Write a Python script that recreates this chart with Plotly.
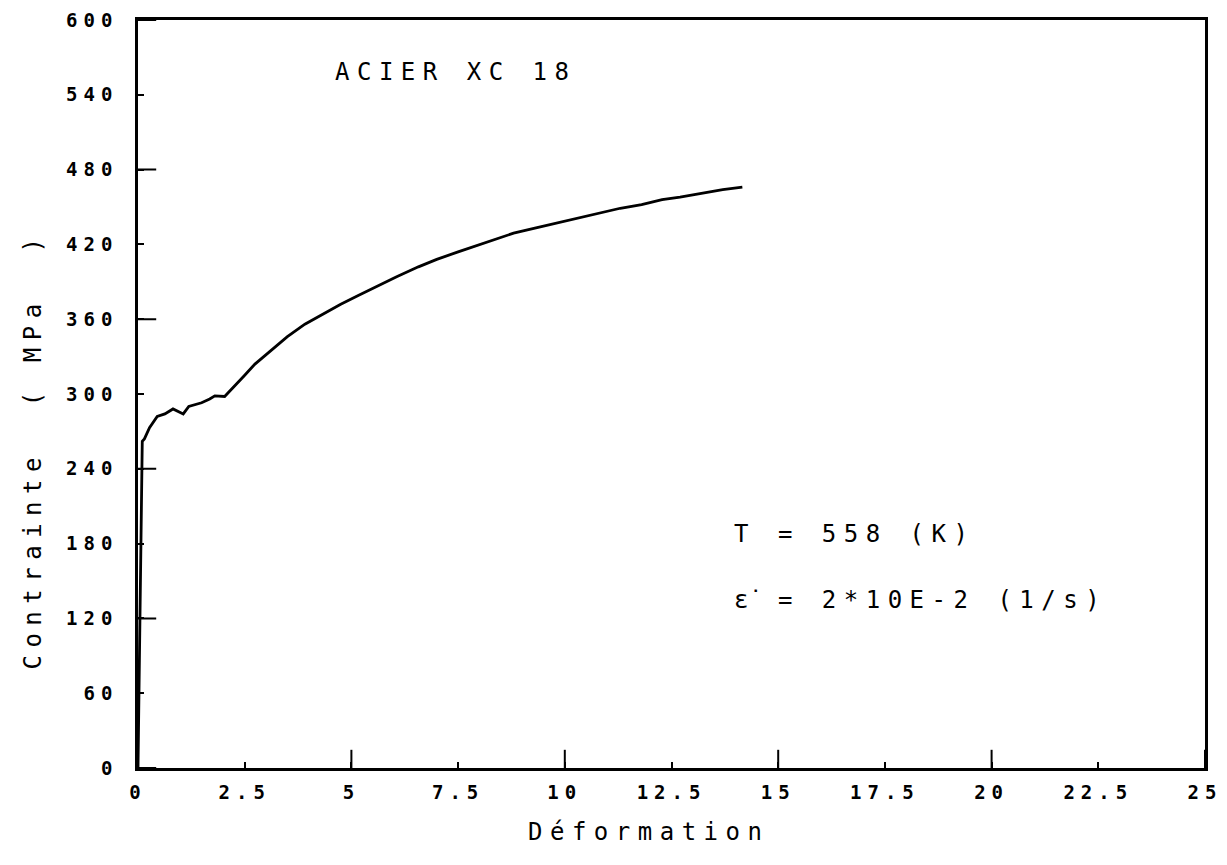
import plotly.graph_objects as go

# Data: strain (%) vs stress (MPa)
deformation = [0.0, 0.06, 0.10, 0.15, 0.27, 0.45, 0.63, 0.82, 1.06, 1.19, 1.49, 1.68,
               1.80, 2.03, 2.23, 2.5, 2.74, 3.13, 3.5, 3.91, 4.38, 4.75, 5.16, 5.63,
               6.06, 6.57, 7.0, 7.5, 8.0, 8.37, 8.8, 9.3, 9.8, 10.33, 10.8, 11.3,
               11.8, 12.28, 12.7, 13.2, 13.7, 14.16]
contrainte = [0, 180, 262, 264, 273, 282, 284, 288, 284, 290, 293, 296,
              298.5, 298, 305, 315, 324, 335, 346, 356, 365, 372, 379, 387,
              394, 402, 408, 414, 420, 424, 429, 433, 437, 441, 445, 449,
              452, 456, 458, 461, 464, 466]

x_ticks = [0, 2.5, 5, 7.5, 10, 12.5, 15, 17.5, 20, 22.5, 25]
x_ticktext = ["0", "2.5", "5", "7.5", "10", "12.5", "15", "17.5", "20", "22.5", "25"]
y_ticks = [0, 60, 120, 180, 240, 300, 360, 420, 480, 540, 600]
x_long_ticks = x_ticks[::2]   # 0, 5, 10, ... drawn with longer marks
y_long_ticks = y_ticks[::2]   # 0, 120, 240, ...

title_text = "ACIER XC 18"
temp_text = "T = 558 (K)"
rate_text = "\u03b5\u0307 = 2*10E-2 (1/s)"
x_title = "Déformation"
y_title = "Contrainte\u00a0\u00a0(\u00a0MPa\u00a0\u00a0)"

FONT = "DejaVu Sans Mono"


def spaced(s, px):
    return '<span style="letter-spacing:%spx">%s</span>' % (px, s)


fig = go.Figure()
fig.add_trace(go.Scatter(x=deformation, y=contrainte, mode="lines",
                         line=dict(color="black", width=2.8), hoverinfo="skip",
                         showlegend=False))
# longer tick marks at every second tick (clipped to the plot area -> inside ticks)
fig.add_trace(go.Scatter(x=x_long_ticks, y=[0] * len(x_long_ticks), mode="markers",
                         marker=dict(symbol="line-ns", size=26,
                                     line=dict(color="black", width=2)),
                         cliponaxis=True, hoverinfo="skip", showlegend=False))
fig.add_trace(go.Scatter(x=[0] * len(y_long_ticks), y=y_long_ticks, mode="markers",
                         marker=dict(symbol="line-ew", size=26,
                                     line=dict(color="black", width=2)),
                         cliponaxis=True, hoverinfo="skip", showlegend=False))

tickfont = dict(family=FONT, size=19, color="black", weight="bold")

fig.update_layout(
    width=1227, height=865,
    paper_bgcolor="white", plot_bgcolor="white",
    margin=dict(l=138, r=22, t=20, b=97, autoexpand=False),
    xaxis=dict(range=[0, 25], tickvals=x_ticks,
               ticktext=[spaced(t, 6) for t in x_ticktext],
               ticks="inside", ticklen=6, tickwidth=2, tickcolor="black",
               showline=True, linecolor="black", linewidth=2.5, mirror=True,
               showgrid=False, zeroline=False, tickfont=tickfont, automargin=False,
               ticklabelstandoff=5),
    yaxis=dict(range=[0, 600], tickvals=y_ticks,
               ticktext=[spaced(str(v), 6) for v in y_ticks],
               ticks="inside", ticklen=6, tickwidth=2, tickcolor="black",
               showline=True, linecolor="black", linewidth=2.5, mirror=True,
               showgrid=False, zeroline=False, tickfont=tickfont, automargin=False,
               ticklabelstandoff=13),
)

textfont = dict(family=FONT, size=24, color="black")
fig.add_annotation(x=0.478, y=-0.0856, xref="paper", yref="paper", text=spaced(x_title, 7.5),
                   showarrow=False, font=textfont, xanchor="center", yanchor="middle")
fig.add_annotation(x=-0.098, y=0.425, xref="paper", yref="paper", text=spaced(y_title, 7.5),
                   showarrow=False, font=textfont, textangle=-90,
                   xanchor="center", yanchor="middle")

fig.add_annotation(x=7.45, y=558, xref="x", yref="y", text=spaced(title_text, 7.5),
                   showarrow=False, font=textfont)
fig.add_annotation(x=13.92, y=188, xref="x", yref="y", text=spaced(temp_text, 7.5),
                   showarrow=False, font=textfont, xanchor="left")
fig.add_annotation(x=13.92, y=135, xref="x", yref="y", text=spaced(rate_text, 7.5),
                   showarrow=False, font=textfont, xanchor="left")

fig.write_html("out.html", config={"displayModeBar": False},
               post_script="document.body.style.margin='0';")
